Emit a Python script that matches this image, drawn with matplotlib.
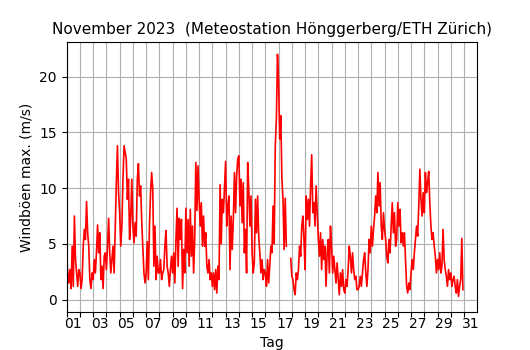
import numpy as np
import matplotlib
matplotlib.use('Agg')
import matplotlib.pyplot as plt

# max. Windböen (m/s), 12 values per day (2 h steps)
week1 = [
    3.6, 2.4, 1.5, 2.7, 1.0, 4.8, 1.2, 7.5, 3.6, 2.4, 1.2, 2.7,      # 01
    2.4, 1.0, 1.8, 4.8, 6.3, 5.4, 8.8, 6.0, 4.8, 1.8, 1.0, 2.4,      # 02
    1.8, 3.6, 2.4, 4.2, 6.7, 4.2, 6.0, 1.8, 3.0, 1.0, 3.9, 4.2,      # 03
    2.7, 4.8, 7.3, 4.2, 2.4, 3.6, 4.8, 2.4, 6.6, 10.5, 13.8, 9.6,    # 04
    7.8, 4.8, 6.6, 10.8, 13.8, 13.2, 12.6, 9.0, 10.8, 5.4, 7.2, 10.8,  # 05
    6.6, 5.1, 6.9, 5.7, 10.8, 12.2, 9.3, 10.2, 7.0, 4.8, 2.4, 1.5,   # 06
    2.4, 5.2, 1.8, 6.6, 9.6, 11.4, 9.9, 3.0, 6.6, 1.8, 3.9, 2.4,     # 07
]
week2 = [
    2.4, 3.6, 1.8, 2.4, 2.7, 4.8, 6.2, 3.0, 2.4, 1.2, 2.7, 3.9,      # 08
    2.4, 4.2, 1.5, 5.4, 8.2, 3.0, 7.3, 5.4, 7.2, 1.0, 4.5, 2.4,      # 09
    8.2, 4.2, 7.2, 3.0, 8.1, 3.9, 6.6, 2.4, 5.4, 12.3, 8.0, 12.0,    # 10
    9.0, 6.6, 8.7, 4.8, 7.5, 4.8, 6.0, 3.0, 2.4, 3.6, 1.8, 2.4,      # 11
    1.2, 2.4, 0.9, 2.7, 0.6, 3.0, 1.8, 10.3, 5.0, 9.0, 7.8, 10.2,    # 12
    12.4, 6.6, 8.4, 9.3, 2.7, 7.5, 4.5, 7.2, 11.4, 7.8, 11.1, 12.6,  # 13
    12.9, 8.4, 10.8, 6.9, 10.5, 4.2, 6.3, 2.4, 12.3, 9.9, 6.6, 9.3,  # 14
]
week3 = [
    4.2, 2.4, 3.3, 9.0, 6.0, 9.3, 5.7, 4.2, 2.4, 3.6, 1.8, 2.7,      # 15
    2.4, 1.2, 3.6, 1.5, 3.0, 4.8, 4.2, 8.4, 5.0, 13.8, 16.2, 22.0,   # 16
    19.5, 14.4, 16.5, 10.8, 9.0, 4.5, 9.1, 4.8, np.nan, np.nan, np.nan, 3.7,  # 17
    2.1, 1.8, 0.9, 0.45, 2.4, 1.8, 2.7, 4.8, 3.9, 6.6, 7.5, 5.4,     # 18
    2.7, 9.3, 7.2, 9.0, 6.6, 10.2, 13.0, 7.8, 8.7, 6.6, 10.2, 7.8,   # 19
    5.4, 3.9, 6.0, 2.7, 5.4, 3.6, 4.8, 1.2, 4.2, 5.4, 2.4, 6.6,      # 20
    4.8, 2.4, 3.9, 2.7, 1.5, 3.3, 1.8, 0.45, 2.4, 1.2, 2.7, 0.9,     # 21
]
week4 = [
    0.6, 1.8, 1.2, 2.7, 4.8, 3.9, 2.4, 4.2, 2.7, 1.8, 2.1, 0.9,      # 22
    0.9, 1.2, 2.1, 1.2, 2.4, 3.6, 4.2, 2.4, 1.2, 2.7, 5.4, 4.2,      # 23
    6.6, 4.8, 6.3, 7.5, 9.3, 7.8, 11.4, 8.4, 10.5, 6.6, 5.4, 7.8,    # 24
    6.3, 5.4, 3.9, 3.3, 5.4, 4.2, 6.6, 8.7, 6.0, 7.8, 4.8, 5.4,      # 25
    8.7, 6.6, 8.1, 5.1, 6.0, 4.8, 6.0, 3.6, 1.2, 0.6, 1.5, 0.9,      # 26
    2.4, 3.6, 2.7, 4.2, 5.4, 6.6, 5.7, 8.4, 11.7, 9.0, 7.5, 9.6,     # 27
    7.8, 11.4, 9.6, 10.5, 11.5, 8.7, 6.6, 5.4, 6.0, 4.8, 3.9, 2.4,   # 28
    3.6, 2.7, 4.2, 2.4, 3.0, 6.3, 3.6, 2.7, 2.1, 1.2, 2.7, 1.8,      # 29
    2.4, 1.2, 1.8, 2.1, 1.2, 0.6, 1.8, 0.3, 1.2, 1.8, 5.5, 0.9,      # 30
]
day_labels = ['%02d' % d for d in range(1, 32, 2)]

gust = np.array(week1 + week2 + week3 + week4)
t = np.arange(len(gust)) / 12.0   # days since 1 Nov 00:00

fig = plt.figure(figsize=(5.3, 3.5), dpi=100)
ax = fig.add_axes([0.1258, 0.1086, 0.7747, 0.7714])
ax.plot(t, gust, color='red', lw=1.2)

ax.set_xlim(0, 31)
ax.set_ylim(-1.1, 23.1)
ax.set_xticks(np.arange(0, 31))
ax.set_xticklabels([])
ax.set_xticks(np.arange(0.5, 31, 2), minor=True)
ax.set_xticklabels(day_labels, minor=True)
ax.tick_params(axis='x', which='minor', length=0)
ax.set_yticks([0, 5, 10, 15, 20])
ax.grid(True, which='major', color='#b0b0b0', lw=0.8)

ax.set_title('November 2023  (Meteostation Hönggerberg/ETH Zürich)', fontsize=11)
ax.set_xlabel('Tag')
ax.set_ylabel('Windböen max. (m/s)')

fig.savefig('out.png', dpi=100)
